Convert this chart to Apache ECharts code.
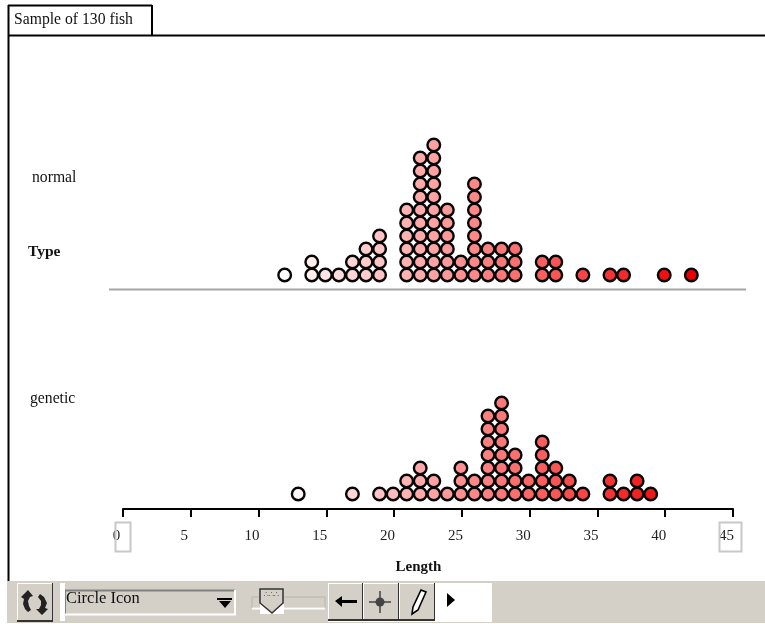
<!DOCTYPE html>
<html>
<head>
<meta charset="utf-8">
<style>html,body{margin:0;padding:0;background:#fff}#c{width:765px;height:624px}</style>
<script src="https://cdn.jsdelivr.net/npm/echarts@6/dist/echarts.min.js"></script>
</head>
<body>
<div id="c"></div>
<script>
var normalLengths = [12,14,15,16,17,18,19,21,22,23,24,25,26,27,28,29,31,32,34,36,37,40,42];
var normalCounts  = [1,2,1,1,2,3,4,6,10,11,6,2,8,3,3,3,2,2,1,1,1,1,1];
var geneticLengths = [13,17,19,20,21,22,23,24,25,26,27,28,29,30,31,32,33,34,36,37,38,39];
var geneticCounts  = [1,1,1,1,2,3,2,1,3,2,7,8,4,2,5,3,2,1,2,1,2,1];
var xTicks = [0,5,10,15,20,25,30,35,40,45];
var sampleLabel = 'Sample of 130 fish';
var typeLabel = 'Type';
var groupLabels = ['normal','genetic'];
var lengthLabel = 'Length';
var iconLabel = 'Circle Icon';

var SERIF = '"Liberation Serif","Times New Roman",serif';

function stack(lengths, counts){
  var pts = [];
  lengths.forEach(function(l,i){
    for (var r=1;r<=counts[i];r++) pts.push([l,r]);
  });
  return pts;
}
function heat(l){
  var t = Math.max(0,Math.min(1,(l-12)/30));
  var v = Math.round(255*(1-t));
  var r = Math.round(255-20*t*t*t);
  return 'rgb('+r+','+v+','+v+')';
}
function dots(name,data,idx){
  return {
    name:name,type:'scatter',xAxisIndex:idx,yAxisIndex:idx,data:data,
    symbol:'circle',symbolSize:12.6,symbolOffset:[-1,0],
    silent:true,animation:false,
    itemStyle:{opacity:1,borderColor:'#050505',borderWidth:2.4,
      color:function(p){return heat(p.value[0]);}}
  };
}
function line(x1,y1,x2,y2,color,w,z){
  return {type:'line',silent:true,z:z||1,shape:{x1:x1,y1:y1,x2:x2,y2:y2},style:{stroke:color,lineWidth:w}};
}
function rect(x,y,w,h,fill,stroke,lw,z){
  return {type:'rect',silent:true,z:z||1,shape:{x:x,y:y,width:w,height:h},style:{fill:fill||'none',stroke:stroke||'none',lineWidth:lw||0}};
}
function txt(x,y,s,font,align,z){
  return {type:'text',silent:true,z:z||5,x:x,y:y,style:{text:s,font:font,fill:'#111',align:align||'left',verticalAlign:'middle'}};
}
function poly(pts,fill,stroke,lw,z){
  return {type:'polygon',silent:true,z:z||6,shape:{points:pts},style:{fill:fill,stroke:stroke||'none',lineWidth:lw||0}};
}
function button(x,y,w,h){
  return [
    rect(x,y,w,h,'#d4d0c8',null,0,3),
    line(x,y+0.5,x+w,y+0.5,'#ffffff',1,3),
    line(x+0.5,y,x+0.5,y+h,'#ffffff',1,3),
    line(x,y+h-1,x+w,y+h-1,'#333333',2,3),
    line(x+w-0.5,y,x+w-0.5,y+h,'#333333',1,3)
  ];
}

var g = [
  // frame
  line(8.5,5,8.5,581,'#000',2),
  line(8,35.5,765,35.5,'#000',2),
  line(8,5.5,152,5.5,'#000',2),
  line(152,5,152,36,'#000',2),
  txt(14,20,sampleLabel,'15.7px '+SERIF),
  // divider
  line(109,289.5,746,289.5,'#a6a6a6',2),
  // left labels
  txt(32,177.5,groupLabels[0],'15.7px '+SERIF),
  txt(28,251.5,typeLabel,'bold 15.5px '+SERIF),
  txt(30,398.5,groupLabels[1],'15.7px '+SERIF),
  txt(418.5,567.5,lengthLabel,'bold 15px '+SERIF,'center'),
  // axis end boxes
  rect(115.5,522.5,15,29,'none','#c8c8c8',2),
  rect(719.5,522.5,22,29,'none','#c8c8c8',2),
  // toolbar
  rect(7,581,758,42,'#d4d0c8'),
  rect(60,583,5,38,'#ffffff'),
  rect(328,583,164,39,'#ffffff',null,0,2),
  // combo box
  rect(65,590,170,25,'#d4d0c8'),
  line(65,590.5,235,590.5,'#808080',2,3),
  line(65.5,590,65.5,615,'#808080',1,3),
  line(65,614.5,236,614.5,'#ffffff',2,3),
  line(235,590,235,615,'#ffffff',2,3),
  txt(66,598.5,iconLabel,'16.5px '+SERIF),
  rect(217,598,15,2,'#000',null,0,4),
  poly([[219,601],[231,601],[225,608]],'#000'),
  // slider
  rect(252,597,73,11,'#d4d0c8','#b8b4ac',1,3),
  line(252,608.5,325,608.5,'#ffffff',2,3),
  rect(260,604,24,10,'#ffffff',null,0,3),
  poly([[260,589],[283,589],[283,603],[272,613],[260,603]],'#d4d0c8','#333',1.5),
  {type:'text',silent:true,z:7,x:271.5,y:595,style:{text:'∴∴∴',font:'8px "DejaVu Sans"',fill:'#555',align:'center',verticalAlign:'middle'}},
  // play triangle
  poly([[447,593],[455,600],[447,607]],'#000'),
  // refresh icon
  poly([[28,590],[21,597],[24,599],[23,604],[25,609],[28,612],[31,610],[29,606],[28,601],[30,597],[33,596]],'#222'),
  poly([[42,615],[48,609],[45,608],[47,603],[44,597],[40,594],[38,597],[41,601],[41,605],[39,609],[36,609]],'#222'),
  // back arrow
  poly([[335,601],[342,596],[342,600],[357,600],[357,603],[342,603],[342,607]],'#000'),
  // crosshair
  line(380,591,380,613,'#666',2,6),
  line(369,602,391,602,'#666',2,6),
  {type:'circle',silent:true,z:7,shape:{cx:380,cy:602,r:4.5},style:{fill:'#444'}},
  // pencil
  poly([[421,590],[426,592],[418,610],[412,614],[413,607]],'#ffffff','#000',1.6)
];
g = g.concat(button(17,583,36,39), button(328,583,35,38), button(363,583,36,38), button(399,583,36,38));

var chart = echarts.init(document.getElementById('c'),null,{renderer:'canvas'});
var hiddenY = function(idx){return {type:'value',gridIndex:idx,min:0,max:idx?8:11,show:false};};
chart.setOption({
  animation:false,
  backgroundColor:'#ffffff',
  grid:[
    {left:123,width:610,top:145,height:143},
    {left:123,width:610,top:403,height:104}
  ],
  xAxis:[
    {type:'value',gridIndex:0,min:0,max:45,interval:5,show:false},
    {type:'value',gridIndex:1,min:0,max:45,interval:5,offset:2,
      axisLine:{show:true,onZero:false,lineStyle:{color:'#000',width:2}},
      axisTick:{show:true,length:8,inside:false,lineStyle:{color:'#000',width:2}},
      splitLine:{show:false},
      axisLabel:{show:true,margin:20,fontFamily:SERIF,fontSize:15,color:'#222',
        padding:[0,13,0,0],showMinLabel:true,showMaxLabel:true,
        formatter:function(v){return xTicks.indexOf(v)>=0?String(v):'';}}
    }
  ],
  yAxis:[hiddenY(0),hiddenY(1)],
  series:[
    dots('normal',stack(normalLengths,normalCounts),0),
    dots('genetic',stack(geneticLengths,geneticCounts),1)
  ],
  graphic:{elements:g}
});
</script>
</body>
</html>
